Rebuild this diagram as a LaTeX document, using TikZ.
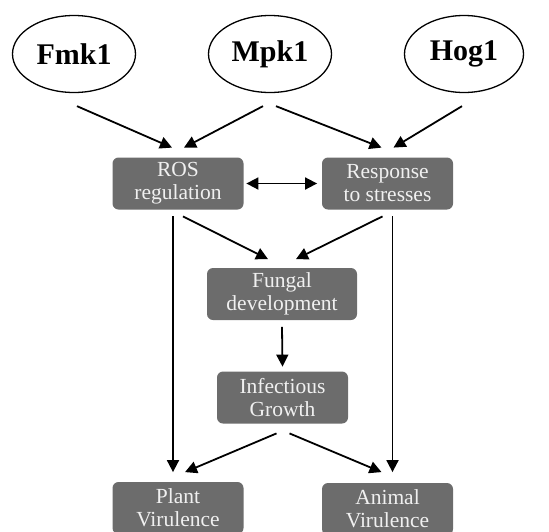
\documentclass[tikz,border=0pt]{standalone}
\usepackage{fontspec}
\setmainfont{Liberation Serif}
\usetikzlibrary{shapes.geometric,arrows.meta,calc}
\definecolor{boxgray}{RGB}{108,108,108}
\begin{document}
\begin{tikzpicture}[x=1pt,y=-1pt,->,>={Triangle[length=12pt,width=12pt]},line width=1.8pt,node distance=195pt,
  main node/.style={ellipse, draw, line width=1.3pt, minimum width=123pt, minimum height=77pt, inner sep=0pt, font=\fontsize{30}{31}\selectfont\bfseries},
  box node/.style={rectangle, rounded corners=6pt, fill=boxgray, text=white!94!black, minimum width=131pt, minimum height=52pt, inner sep=0pt, align=center, font=\fontsize{21.5}{23}\selectfont}]
  \useasboundingbox (0,0) rectangle (549,531);

  \node[main node] (1) at (74,54) {Fmk1};
  \node[main node] (2) [right of=1, node distance=196pt] {Mpk1};
  \node[main node] (3) [right of=2, node distance=194pt, minimum width=119pt] {Hog1};

  \node[box node] (4) at (178,183.5) {ROS\\regulation};
  \node[box node] (5) at (387.5,183.5) {Response\\to stresses};
  \node[box node, minimum width=150pt] (6) at (282,294) {Fungal\\development};
  \node[box node] (7) at (282.5,397.5) {Infectious\\Growth};
  \node[box node] (8) at (178,508) {Plant\\Virulence};
  \node[box node] (9) at (387.5,509) {Animal\\Virulence};

  \path ($(1.south)+(3,13)$) edge ($(4.north)+(-6,-9)$)
        ($(2.south)+(-7,13)$) edge ($(4.north)+(6,-9)$)
        ($(2.south)+(6,13)$) edge ($(5.north)+(-6,-9)$)
        ($(3.south)+(-2,13)$) edge ($(5.north)+(6,-9)$);

  \draw[<->, shorten <=2pt, shorten >=4pt] (4.east) -- (5.west);

  \path ($(4.south)+(-5,6)$) edge ($(8.north)+(-5,-9)$)
        ($(4.south)+(5,6)$) edge ($(6.north)+(-14,-8)$)
        ($(5.south)+(-5,6)$) edge ($(6.north)+(14,-8)$)
        ($(5.south)+(5,6)$) edge ($(9.north)+(5,-10)$)
        ($(6.south)+(0,6)$) edge ($(7.north)+(0,-4)$)
        ($(7.south)+(-6,9)$) edge ($(8.north)+(7,-9)$)
        ($(7.south)+(7,9)$) edge ($(9.north)+(-6,-10)$);
\end{tikzpicture}
\end{document}
